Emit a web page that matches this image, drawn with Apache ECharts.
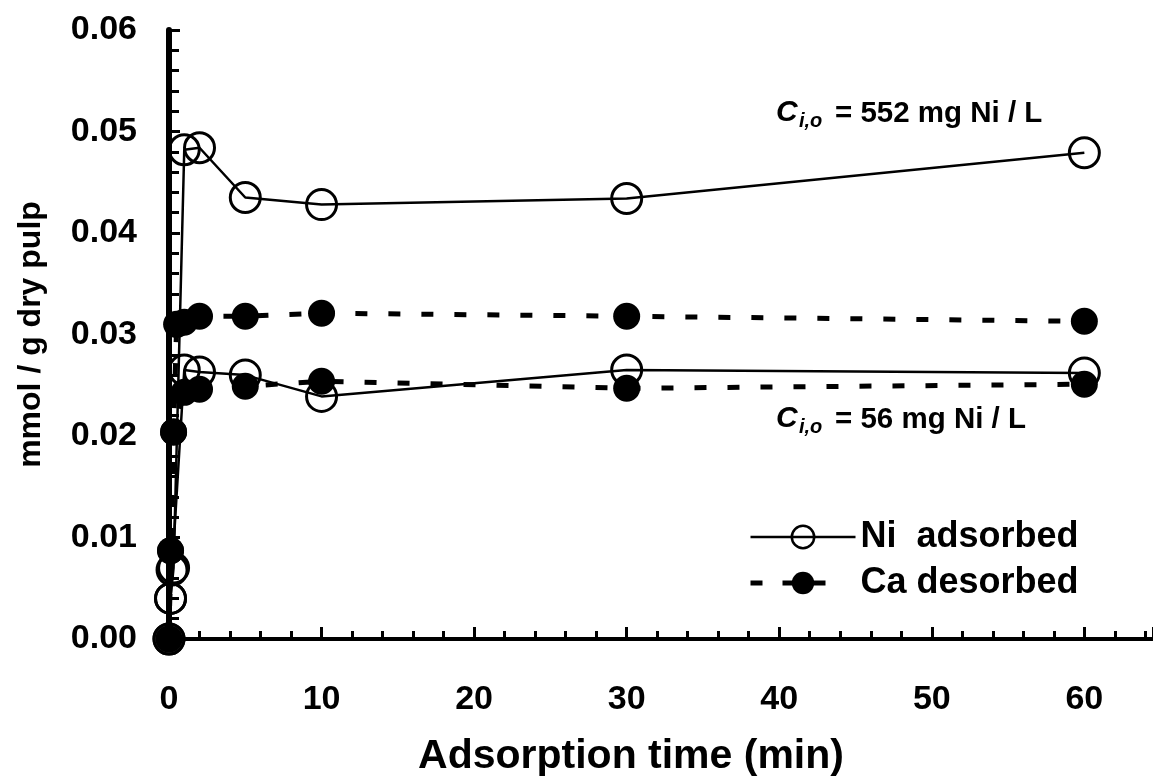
<!DOCTYPE html>
<html>
<head>
<meta charset="utf-8">
<script src="https://cdn.jsdelivr.net/npm/echarts@6/dist/echarts.min.js"></script>
<style>
  html, body { margin: 0; padding: 0; background: #fff; }
  #chart { width: 1153px; height: 782px; }
</style>
</head>
<body>
<div id="chart"></div>
<script>
const FONT = '"Liberation Sans", Arial, Helvetica, sans-serif';

// Adsorption time (min) and uptake / release (mmol / g dry pulp)
// C i,o = 552 mg Ni / L
const niHighTime = [0, 0.1, 0.3, 1, 2, 5, 10, 30, 60];
const niHigh     = [0, 0.004, 0.007, 0.0482, 0.0484, 0.0435, 0.0428, 0.0434, 0.0479];
const caHighTime = [0, 0.1, 0.3, 0.5, 1, 2, 5, 10, 30, 60];
const caHigh     = [0, 0.0087, 0.0204, 0.031, 0.0312, 0.0318, 0.0318, 0.0321, 0.0318, 0.0313];
// C i,o = 56 mg Ni / L
const niLowTime  = [0, 0.1, 0.2, 1, 2, 5, 10, 30, 60];
const niLow      = [0, 0.004, 0.0068, 0.0265, 0.0263, 0.026, 0.0239, 0.0265, 0.0262];
const caLowTime  = [0, 0.1, 0.3, 1, 2, 5, 10, 30, 60];
const caLow      = [0, 0.0087, 0.0204, 0.0243, 0.0246, 0.0249, 0.0254, 0.0247, 0.0251];

const xTickLabels = ['0', '10', '20', '30', '40', '50', '60'];
const yTickLabels = ['0.00', '0.01', '0.02', '0.03', '0.04', '0.05', '0.06'];

const NI_NAME = 'Ni  adsorbed';
const CA_NAME = 'Ca desorbed';

const NI_LINE = { color: '#000', width: 2.5, type: 'solid' };
const CA_LINE = { color: '#000', width: 5, type: [12, 21] };

const pairs = (t, v) => t.map((x, i) => [x, v[i]]);

const niSeries = (name, t, v) => ({
  name, type: 'line', data: pairs(t, v),
  symbol: 'circle', symbolSize: 30,
  lineStyle: NI_LINE,
  itemStyle: { color: 'rgba(255,255,255,0)', borderColor: '#000', borderWidth: 3 },
  z: 2, animation: false
});
const caSeries = (name, t, v) => ({
  name, type: 'line', data: pairs(t, v),
  symbol: 'circle', symbolSize: 27,
  lineStyle: CA_LINE,
  itemStyle: { color: '#000', borderWidth: 0 },
  z: 3, animation: false
});

const chart = echarts.init(document.getElementById('chart'), null, { renderer: 'canvas' });

const label = (size) => ({ fontFamily: FONT, fontWeight: 'bold', fontSize: size, color: '#000' });

chart.setOption({
  backgroundColor: '#fff',
  animation: false,
  grid: { left: 169, right: 0, top: 30, bottom: 142 },
  xAxis: [{
    type: 'value', min: 0, max: 64.5, interval: 10,
    name: 'Adsorption time (min)', nameLocation: 'middle', nameGap: 97,
    nameTextStyle: Object.assign(label(41), { padding: [0, 60, 0, 0] }),
    axisLine: { show: true, onZero: false, lineStyle: { color: '#000', width: 4 } },
    axisTick: { show: true, inside: true, length: 12, lineStyle: { color: '#000', width: 3 } },
    minorTick: { show: true, splitNumber: 5, length: 8, lineStyle: { color: '#000', width: 3 } },
    axisLabel: Object.assign(label(34), {
      margin: 44, showMaxLabel: false,
      formatter: (v) => xTickLabels[Math.round(v / 10)] ?? ''
    }),
    splitLine: { show: false }
  }, {
    type: 'value', position: 'top', min: 0, max: 64.5,
    axisLine: { show: true, lineStyle: { color: '#000', width: 4 } },
    axisTick: { show: false }, axisLabel: { show: false }, splitLine: { show: false }
  }],
  yAxis: {
    type: 'value', min: 0, max: 0.06, interval: 0.01,
    name: 'mmol / g dry pulp', nameLocation: 'middle', nameGap: 122,
    nameTextStyle: label(32),
    axisLine: { show: true, onZero: false, lineStyle: { color: '#000', width: 6 } },
    axisTick: { show: true, inside: true, length: 11, lineStyle: { color: '#000', width: 3 } },
    minorTick: { show: true, splitNumber: 5, length: 10, lineStyle: { color: '#000', width: 3 } },
    axisLabel: Object.assign(label(34), {
      margin: 32,
      formatter: (v) => yTickLabels[Math.round(v / 0.01)]
    }),
    splitLine: { show: false }
  },
  legend: {
    data: [
      { name: NI_NAME, lineStyle: { width: 2.5, type: 'solid' }, itemStyle: { borderWidth: 2.5 } },
      // short dash, marker, short dash
      { name: CA_NAME, lineStyle: { width: 5, type: [12, 20, 20, 8, 15, 60] } }
    ],
    orient: 'vertical', left: 743, top: 514,
    itemWidth: 105, itemHeight: 28, itemGap: 10,
    selectedMode: false,
    textStyle: label(36)
  },
  graphic: [
    { type: 'text', left: 776, top: 98, style: { text: 'C', font: 'italic bold 30px ' + FONT, fill: '#000' } },
    { type: 'text', left: 799, top: 111, style: { text: 'i,o', font: 'italic bold 20px ' + FONT, fill: '#000' } },
    { type: 'text', left: 835, top: 99, style: { text: '= 552 mg Ni / L', font: 'bold 29.5px ' + FONT, fill: '#000' } },
    { type: 'text', left: 776, top: 404, style: { text: 'C', font: 'italic bold 30px ' + FONT, fill: '#000' } },
    { type: 'text', left: 799, top: 417, style: { text: 'i,o', font: 'italic bold 20px ' + FONT, fill: '#000' } },
    { type: 'text', left: 835, top: 405, style: { text: '= 56 mg Ni / L', font: 'bold 29.5px ' + FONT, fill: '#000' } }
  ],
  series: [
    niSeries(NI_NAME, niHighTime, niHigh),
    niSeries(NI_NAME, niLowTime, niLow),
    caSeries(CA_NAME, caHighTime, caHigh),
    caSeries(CA_NAME, caLowTime, caLow)
  ]
});
</script>
</body>
</html>
